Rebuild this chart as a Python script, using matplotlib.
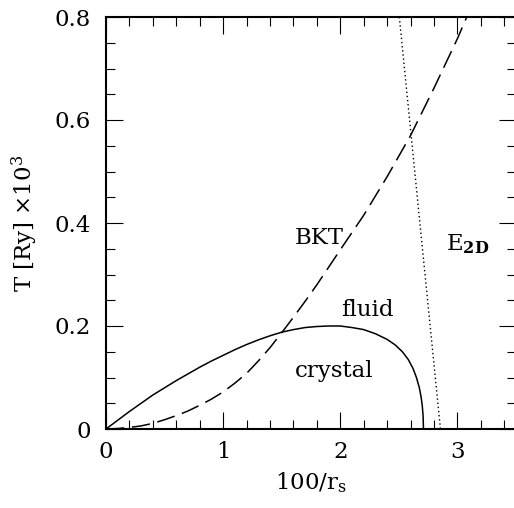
import matplotlib
matplotlib.use("Agg")
import matplotlib.pyplot as plt
from matplotlib.ticker import MultipleLocator

plt.rcParams['font.family'] = ['DejaVu Serif']
plt.rcParams['mathtext.fontset'] = 'dejavuserif'

# Melting (crystal) curve
melt_x = [0, 0.1, 0.2, 0.3, 0.4, 0.5, 0.6, 0.7, 0.8, 0.9, 1.0, 1.1, 1.2, 1.3, 1.4, 1.5, 1.6, 1.7, 1.8, 1.9,
          2.0, 2.1, 2.2, 2.3, 2.4, 2.47, 2.53, 2.58, 2.62, 2.65, 2.675, 2.69, 2.70, 2.707, 2.71]
melt_y = [0, 0.017, 0.034, 0.050, 0.066, 0.080, 0.094, 0.107, 0.120, 0.132, 0.143, 0.154, 0.164, 0.173, 0.181,
          0.188, 0.193, 0.197, 0.199, 0.200, 0.200, 0.197, 0.193, 0.185, 0.174, 0.163, 0.150, 0.135, 0.118,
          0.100, 0.080, 0.062, 0.045, 0.025, 0.0]

# BKT curve
bkt_x = [0, 0.1, 0.2, 0.3, 0.4, 0.5, 0.6, 0.7, 0.8, 0.9, 1.0, 1.1, 1.2, 1.3, 1.4, 1.5, 1.6, 1.7, 1.8, 1.9,
         2.0, 2.2, 2.4, 2.6, 2.8, 3.0, 3.08]
bkt_y = [0, 0.001, 0.003, 0.006, 0.011, 0.018, 0.026, 0.035, 0.046, 0.058, 0.072, 0.089, 0.108, 0.132, 0.158,
         0.187, 0.217, 0.248, 0.280, 0.314, 0.348, 0.415, 0.490, 0.570, 0.662, 0.758, 0.800]

# E_2D line
e2d_x = [2.504, 2.855]
e2d_y = [0.8, 0.0]

fig = plt.figure(figsize=(5.14, 5.08), dpi=100)
ax = fig.add_axes([106/514, 1-429/508, (516-106)/514, (429-17)/508])

ax.plot(melt_x, melt_y, color='black', lw=1.1, solid_joinstyle='round')
ax.plot(bkt_x, bkt_y, color='black', lw=1.1, dashes=(12, 5))
ax.plot(e2d_x, e2d_y, color='black', lw=1.0, dashes=(1, 2))

ax.set_xlim(0, 3.5)
ax.set_ylim(0, 0.8)
ax.xaxis.set_minor_locator(MultipleLocator(0.2))
ax.yaxis.set_minor_locator(MultipleLocator(0.05))
ax.set_xticks([0, 1, 2, 3])
ax.set_xticklabels(['0', '1', '2', '3'])
ax.set_yticks([0, 0.2, 0.4, 0.6, 0.8])
ax.set_yticklabels(['0', '0.2', '0.4', '0.6', '0.8'])

ax.tick_params(which='both', direction='in', top=True, right=True, width=0.8, labelsize=16.5)
ax.tick_params(which='major', length=12.5)
ax.tick_params(which='minor', length=6.8)
ax.tick_params(axis='x', which='major', pad=9)
ax.tick_params(axis='y', which='major', pad=11)
for s in ax.spines.values():
    s.set_linewidth(1.5)

ax.set_xlabel('100/r$_\\mathrm{s}$', fontsize=16.5, labelpad=5)
ax.set_ylabel('T [Ry] $\\times$10$^3$', fontsize=16.5, labelpad=10)

ax.text(1.613, 0.359, 'BKT', fontsize=16.5, ha='left', va='baseline')
ax.text(2.011, 0.219, 'fluid', fontsize=16.5, ha='left', va='baseline')
ax.text(1.613, 0.101, 'crystal', fontsize=16.5, ha='left', va='baseline')
ax.text(2.906, 0.347, 'E$_{\\mathbf{2D}}$', fontsize=16.5, ha='left', va='baseline')

fig.savefig('out.png', dpi=100)
